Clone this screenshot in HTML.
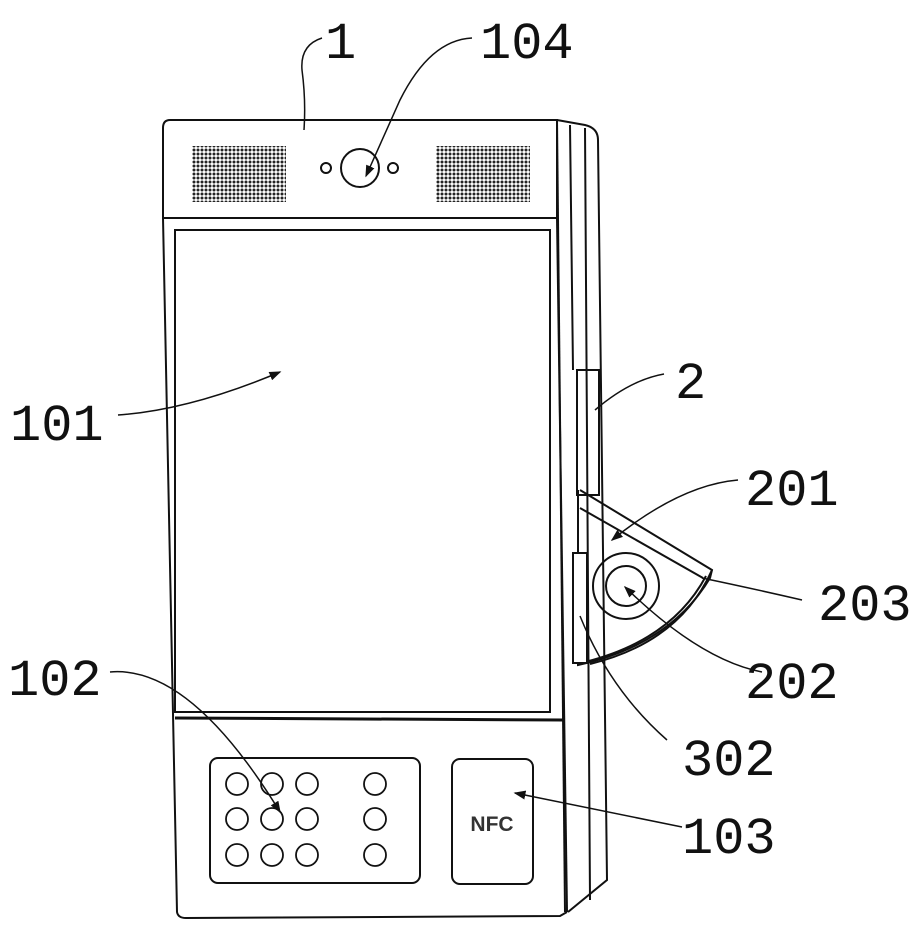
<!DOCTYPE html>
<html><head><style>body{margin:0;background:#fff}svg{display:block}text{font-family:"Liberation Mono",monospace;font-size:52px;fill:#111}</style></head>
<body>
<svg width="918" height="932" viewBox="0 0 918 932" xmlns="http://www.w3.org/2000/svg">
<defs>
<pattern id="dots" width="4" height="4" patternUnits="userSpaceOnUse"><circle cx="2" cy="2" r="1.5" fill="#222"/></pattern>
<marker id="ah" markerWidth="8" markerHeight="6" refX="7" refY="3" orient="auto"><path d="M0 0 L8 3 L0 6 Z" fill="#111"/></marker>
</defs>
<g fill="none" stroke="#111" stroke-width="2">
<path d="M557 120 L585 125 Q598 128 598 140 L607 880 L568 912"/>
<path d="M570 125 L573 370 M585 128 L590 900"/>
<path d="M557 120 L565 912"/>
<path d="M170 120 L557 120 L557 218 L163 218 L163 128 Q163 120 170 120 Z"/>
<path d="M163 218 L177 912 Q178 918 186 918 L560 916 L567 912"/>
<path d="M557 218 L567 912"/>
<rect x="175" y="230" width="375" height="482" stroke-width="2"/>
<path d="M175 718 L563 720" stroke-width="3"/>
<circle cx="360" cy="168" r="19"/>
<circle cx="326" cy="168" r="5"/>
<circle cx="393" cy="168" r="5"/>
<rect x="210" y="758" width="210" height="125" rx="8"/>
<g stroke-width="1.8">
<circle cx="237" cy="784" r="11"/><circle cx="272" cy="784" r="11"/><circle cx="307" cy="784" r="11"/><circle cx="375" cy="784" r="11"/>
<circle cx="237" cy="819" r="11"/><circle cx="272" cy="819" r="11"/><circle cx="307" cy="819" r="11"/><circle cx="375" cy="819" r="11"/>
<circle cx="237" cy="855" r="11"/><circle cx="272" cy="855" r="11"/><circle cx="307" cy="855" r="11"/><circle cx="375" cy="855" r="11"/>
</g>
<rect x="452" y="759" width="81" height="125" rx="8"/>
<rect x="577" y="370" width="22" height="125"/>
<path d="M580 490 L712 570 L710 578 Q670 645 578 665 L578 490"/>
<path d="M580 508 L703 578"/>
<path d="M712 570 Q680 642 590 664 M706 576 Q672 640 585 662"/>
<circle cx="626" cy="586" r="33"/>
<circle cx="626" cy="586" r="20"/>
<rect x="573" y="553" width="14" height="110" fill="#fff"/>
<g stroke-width="1.5">
<path d="M322 38 Q300 45 302 70 Q306 100 304 130"/>
<path d="M472 38 Q430 40 400 100 Q380 145 366 176" marker-end="url(#ah)"/>
<path d="M118 415 Q190 410 280 372" marker-end="url(#ah)"/>
<path d="M664 374 Q630 380 595 410"/>
<path d="M738 480 Q680 485 612 540" marker-end="url(#ah)"/>
<path d="M802 600 Q750 588 702 578"/>
<path d="M762 672 Q700 660 625 587" marker-end="url(#ah)"/>
<path d="M667 740 Q610 690 580 616"/>
<path d="M682 827 Q600 810 515 793" marker-end="url(#ah)"/>
<path d="M110 672 Q190 665 280 812" marker-end="url(#ah)"/>
</g>
</g>
<rect x="192" y="146" width="94" height="56" fill="url(#dots)"/>
<rect x="436" y="146" width="94" height="56" fill="url(#dots)"/>
<text x="492" y="831" text-anchor="middle" style="font-family:'Liberation Sans',sans-serif;font-size:21px;font-weight:bold;fill:#333">NFC</text>
<text x="325" y="58">1</text>
<text x="480" y="58">104</text>
<text x="10" y="440">101</text>
<text x="675" y="398">2</text>
<text x="745" y="505">201</text>
<text x="818" y="620">203</text>
<text x="745" y="698">202</text>
<text x="682" y="775">302</text>
<text x="682" y="853">103</text>
<text x="8" y="695">102</text>
</svg>
</body></html>
